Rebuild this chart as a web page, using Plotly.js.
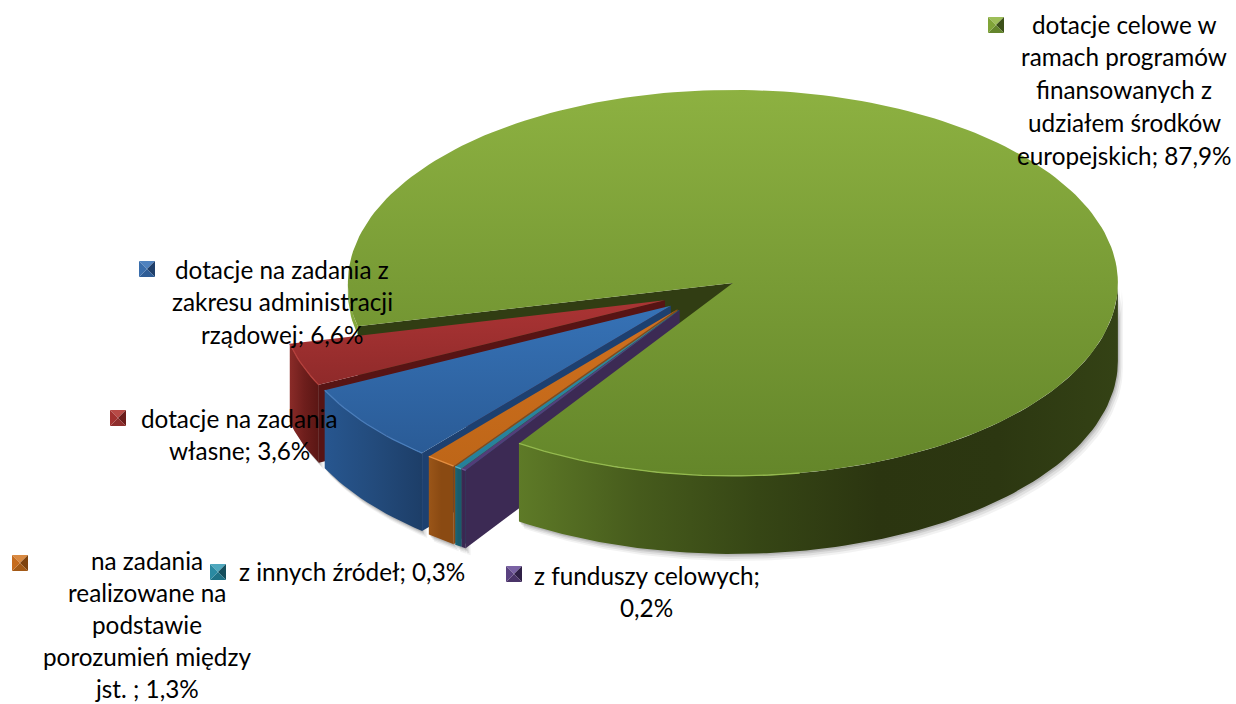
<!DOCTYPE html>
<html><head><meta charset="utf-8">
<script src="https://cdn.plot.ly/plotly-3.0.1.min.js"></script>
<style>html,body{margin:0;padding:0;background:#fff}#c{width:1236px;height:704px}</style>
</head><body><div id="c"></div>
<script>
// ---- data ----
const categories = ["dotacje na zadania własne","dotacje na zadania z zakresu administracji rządowej","na zadania realizowane na podstawie porozumień między jst.","z innych źródeł","z funduszy celowych","dotacje celowe w ramach programów finansowanych z udziałem środków europejskich"];
const values = [3.6, 6.6, 1.3, 0.3, 0.2, 87.9];
const labelLines = [
  ["dotacje na zadania","własne; 3,6%"],
  ["dotacje na zadania z","zakresu administracji","rządowej; 6,6%"],
  ["na zadania","realizowane na","podstawie","porozumień między","jst. ; 1,3%"],
  ["z innych źródeł; 0,3%"],
  ["z funduszy celowych;","0,2%"],
  ["dotacje celowe w","ramach programów","finansowanych z","udziałem środków","europejskich; 87,9%"]
];
// ---- style / layout constants ----
const W=1236,H=704, CX=701.2, CY=293.9, RX=385, RY=193, DEPTH=78, EXPLODE=0.1, START=13;
const FONT='Lato, Carlito, sans-serif', FS=24.3;
const labelPos=[[239.5,418,32.8],[282,269,32.8],[147,560,32],[352,571,32.8],[646.5,575,32.8],[1124,24,32.8]];
const keyPos=[[118,418],[147,269],[20,563],[218,572],[514,574],[996,25]];
const KEY=8, GREEN_LEFT_DEPTH=9, GREEN_RIM_END=100;
const styles=[
 {top:['#AB3434','#8F2A2A'],wall:['#8A2B28','#6E1E1C','#5A1614'],cut:'#571414',rim:'#B5403C',key:['#B84A46','#6B1C1A','#8E2E2C','#A23230']},
 {top:['#3672B6','#2A5B96'],wall:['#27568F','#234B7C','#1D3E68'],cut:'#1D4070',rim:'#4A7EBC',key:['#4F82BF','#1F3F6A','#2F5D96','#3A6EAC']},
 {top:['#D0701E','#BE6618'],wall:['#9A5518','#8A4A12','#8A4A12'],cut:'#8A4A12',rim:'#E48E40',key:['#D98A42','#7E430F','#A35A17','#C66C1E']},
 {top:['#2E8CA4','#25809A'],wall:['#1C6676','#195C6C','#195C6C'],cut:'#195C6C',rim:'#4FB0C6',key:['#4FA8BE','#154E5C','#1F7286','#2A8AA2']},
 {top:['#5A4282','#523C78'],wall:['#3E2A58','#392750','#3C2A54'],cut:'#3C2A54',rim:'#6E5698',key:['#7A62A4','#2F2046','#4A3468','#5A4280']},
 {top:['#8DB141','#64862A'],wall:['#5E7A27','#465B1C','#364615','#2B3510','#2C3711','#344215'],cut:'#313D13',rim:'#94BA4E',key:['#9DBE58','#3C5019','#64852C','#80A438']}
];
// ---- geometry from values ----
const rad=d=>d*Math.PI/180;
const total=values.reduce((a,b)=>a+b,0);
const traces=[];
function poly(pts,opt){
  return Object.assign({type:'scatter',mode:'lines',x:pts.map(p=>p[0]),y:pts.map(p=>p[1]),fill:'toself',
    line:{width:0,color:'rgba(0,0,0,0)'},hoverinfo:'skip',showlegend:false},opt);
}
function grad(type,cols){
  return {type:type,colorscale:cols.map((c,i)=>[i/(cols.length-1),c])};
}
function arc(a,t0,t1){
  const n=Math.max(2,Math.ceil(Math.abs(t1-t0)/1.5)),o=[];
  for(let i=0;i<=n;i++){const t=rad(t0+(t1-t0)*i/n);o.push([a[0]-RX*Math.cos(t),a[1]+RY*Math.sin(t)]);}
  return o;
}
const down=(pts,d)=>pts.map(p=>[p[0],p[1]+d]);
const shift=(pts,dx,dy)=>pts.map(p=>[p[0]+dx,p[1]+dy]);
const wallPoly=(a,t0,t1,d)=>{const ar=arc(a,t0,t1);return ar.concat(down(ar,d).reverse());};
let ang=START;
const slices=values.map((v,i)=>{
  const t0=ang,t1=ang+v/total*360;ang=t1;
  const mid=rad((t0+t1)/2);
  const apex=[CX-EXPLODE*RX*Math.cos(mid),CY+EXPLODE*RY*Math.sin(mid)];
  return {i,t0,t1,apex,s:styles[i],front:wallPoly(apex,t0,Math.min(t1,180),DEPTH)};
});
// soft shadow under the front walls
[[5,7,0.05],[3.5,5,0.07],[2,3,0.09],[1,1.5,0.1]].forEach(o=>{
  slices.forEach(sl=>traces.push(poly(shift(sl.front,o[0],o[1]),{fillcolor:`rgba(0,0,0,${o[2]})`})));
});
function drawCut(sl,t){
  const e=arc(sl.apex,t,t)[0];
  traces.push(poly([sl.apex,e,[e[0],e[1]+DEPTH],[sl.apex[0],sl.apex[1]+DEPTH]],{fillcolor:sl.s.cut}));
}
function rim(sl,t0,t1){
  const r=arc(sl.apex,t0,t1);
  traces.push({type:'scatter',mode:'lines',x:r.map(p=>p[0]),y:r.map(p=>p[1]),
    line:{width:1.3,color:sl.s.rim},hoverinfo:'skip',showlegend:false});
}
function drawTop(sl){
  const ar=arc(sl.apex,sl.t0,sl.t1);
  traces.push(poly([sl.apex].concat(ar),{fillgradient:grad('vertical',sl.s.top.slice().reverse())}));
}
const green=slices[5];
// back parts of green: upper cut wall and the sliver on its left
drawCut(green,green.t1);
traces.push(poly(wallPoly(green.apex,360,green.t1,GREEN_LEFT_DEPTH),{fillcolor:'#83A83C'}));
// small slices back to front
slices.slice(0,5).forEach(sl=>{
  traces.push(poly(sl.front,{fillgradient:grad('horizontal',sl.s.wall)}));
  drawCut(sl,sl.t1); drawTop(sl); rim(sl,sl.t0,sl.t1);
});
// green top and front wall last
traces.push(poly(green.front,{fillgradient:grad('horizontal',green.s.wall)}));
drawTop(green);
rim(green,green.t0,GREEN_RIM_END);
// legend keys: bevelled squares
slices.forEach((sl,i)=>{
  const c=keyPos[i],k=KEY;
  const A=[c[0]-k,c[1]-k],B=[c[0]+k,c[1]-k],C=[c[0]+k,c[1]+k],D=[c[0]-k,c[1]+k];
  [[A,B],[B,C],[C,D],[D,A]].forEach((e,j)=>{
    traces.push(poly([e[0],e[1],c],{fillcolor:sl.s.key[j]}));
  });
});
// labels
const annotations=[];
labelLines.forEach((lines,i)=>{
  lines.forEach((txt,j)=>{
    annotations.push({x:labelPos[i][0],y:labelPos[i][1]+j*labelPos[i][2],xref:'x',yref:'y',text:txt,showarrow:false,
      xanchor:'center',yanchor:'middle',font:{family:FONT,size:FS,color:'#000'}});
  });
});
const ax={visible:false,showgrid:false,zeroline:false,fixedrange:true};
Plotly.newPlot('c',traces,{
  width:W,height:H,margin:{l:0,r:0,t:0,b:0,pad:0},paper_bgcolor:'#fff',plot_bgcolor:'#fff',showlegend:false,
  xaxis:Object.assign({range:[0,W]},ax),yaxis:Object.assign({range:[H,0]},ax),annotations:annotations
},{displayModeBar:false,staticPlot:true});
</script></body></html>
